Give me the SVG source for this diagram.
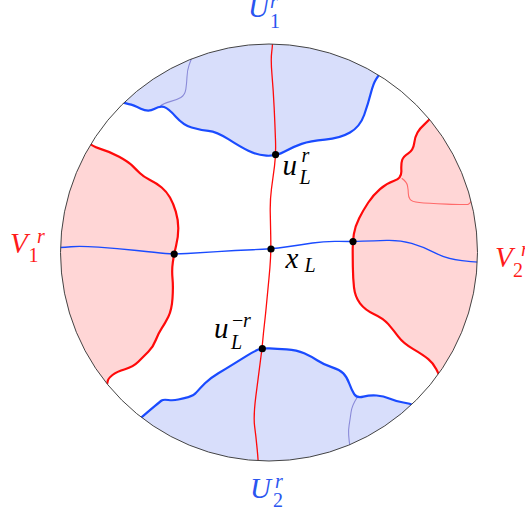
<svg xmlns="http://www.w3.org/2000/svg" width="525" height="512" viewBox="0 0 525 512">
<style>
.fillU{fill:#d8defb;stroke:none}
.fillV{fill:#ffd6d6;stroke:none}
.bU{fill:none;stroke:#1a4bff;stroke-width:2.2;stroke-linejoin:round;stroke-linecap:round}
.bV{fill:none;stroke:#ff0a0a;stroke-width:2.2;stroke-linejoin:round;stroke-linecap:round}
.tU{fill:none;stroke:#8a8ad8;stroke-width:1.1}
.tV{fill:none;stroke:#ff6a6a;stroke-width:1.1}
.lineR{fill:none;stroke:#ff0a0a;stroke-width:1.3}
.lineB{fill:none;stroke:#1a4bff;stroke-width:1.3}
.dot{fill:#000}
.m{font-family:"Liberation Serif","Times New Roman",serif;font-style:italic;font-size:29px}
.s{font-family:"Liberation Serif","Times New Roman",serif;font-style:italic;font-size:20px}
.d{font-family:"Liberation Serif","Times New Roman",serif;font-style:normal;font-size:20px}
.blue{fill:#2a55f0}
.red{fill:#ff1a1a}
.blk{fill:#000}
</style>
<defs>
<clipPath id="disk"><circle cx="269" cy="252.5" r="208.5"/></clipPath>
</defs>
<g clip-path="url(#disk)">
<g id="U1">
<path class="fillU" d="M120,101 Q124.3,103.3 128.8,104.15 Q133.3,105 140.8,108.65 Q148.3,112.3 154.15,109 Q160,105.7 164.15,107 Q168.3,108.3 175.8,116.65 Q183.3,125 191.65,127.5 Q200,130 208.35,130.85 Q216.7,131.7 228.35,139.2 Q240,146.7 248.35,150.85 Q256.7,155 266.35,155.65 Q276,156.3 284.65,151.5 Q293.3,146.7 301.65,143.85 Q310,141 325,139.65 Q340,138.3 350,132.5 Q360,126.7 364.15,115 Q368.3,103.3 370.8,93.3 Q373.3,83.3 376.3,78.8 Q379.3,74.3 384,68 L384,20 L120,20 Z"/>
<path class="tU" d="M159.6,106.8 Q163.3,103.3 170,101.65 Q176.7,100 180.85,97.5 Q185,95 185.85,89.15 Q186.7,83.3 187,76.65 Q187.3,70 189,65.35 Q190.7,60.7 192,57"/>
<path class="bU" d="M120,101 Q124.3,103.3 128.8,104.15 Q133.3,105 140.8,108.65 Q148.3,112.3 154.15,109 Q160,105.7 164.15,107 Q168.3,108.3 175.8,116.65 Q183.3,125 191.65,127.5 Q200,130 208.35,130.85 Q216.7,131.7 228.35,139.2 Q240,146.7 248.35,150.85 Q256.7,155 266.35,155.65 Q276,156.3 284.65,151.5 Q293.3,146.7 301.65,143.85 Q310,141 325,139.65 Q340,138.3 350,132.5 Q360,126.7 364.15,115 Q368.3,103.3 370.8,93.3 Q373.3,83.3 376.3,78.8 Q379.3,74.3 384,68"/>
</g>
<g id="U2">
<path class="fillU" d="M137,421 Q141.7,417.3 145.85,413.65 Q150,410 155,405.85 Q160,401.7 161.65,400.5 Q163.3,399.3 168.3,400 Q173.3,400.7 178.3,399.5 Q183.3,398.3 188.3,397.15 Q193.3,396 196.65,392.15 Q200,388.3 205,383.3 Q210,378.3 218.35,373.3 Q226.7,368.3 233.35,364.15 Q240,360 246.65,355.85 Q253.3,351.7 257.65,349.85 Q262,348 269.35,348.35 Q276.7,348.7 286.7,349.35 Q296.7,350 304.2,353.35 Q311.7,356.7 317.5,360.5 Q323.3,364.3 331.65,367.15 Q340,370 343.35,373.35 Q346.7,376.7 349.2,383.35 Q351.7,390 354.2,394.15 Q356.7,398.3 363.35,396.65 Q370,395 376.65,395.5 Q383.3,396 390,398.85 Q396.7,401.7 403.35,402.5 Q410,403.3 415,406 L420,480 L130,480 Z"/>
<path class="tU" d="M357.5,397 Q352,405 351,412.5 Q350,420 349.15,425 Q348.3,430 348.65,435 Q349,440 350,447"/>
<path class="bU" d="M137,421 Q141.7,417.3 145.85,413.65 Q150,410 155,405.85 Q160,401.7 161.65,400.5 Q163.3,399.3 168.3,400 Q173.3,400.7 178.3,399.5 Q183.3,398.3 188.3,397.15 Q193.3,396 196.65,392.15 Q200,388.3 205,383.3 Q210,378.3 218.35,373.3 Q226.7,368.3 233.35,364.15 Q240,360 246.65,355.85 Q253.3,351.7 257.65,349.85 Q262,348 269.35,348.35 Q276.7,348.7 286.7,349.35 Q296.7,350 304.2,353.35 Q311.7,356.7 317.5,360.5 Q323.3,364.3 331.65,367.15 Q340,370 343.35,373.35 Q346.7,376.7 349.2,383.35 Q351.7,390 354.2,394.15 Q356.7,398.3 363.35,396.65 Q370,395 376.65,395.5 Q383.3,396 390,398.85 Q396.7,401.7 403.35,402.5 Q410,403.3 415,406"/>
</g>
<g id="V1">
<path class="fillV" d="M88,141 Q90.7,146 100.35,148.85 Q110,151.7 119.15,156.7 Q128.3,161.7 132.5,165.85 Q136.7,170 140,173.35 Q143.3,176.7 150,180 Q156.7,183.3 161.7,187.5 Q166.7,191.7 170,197.5 Q173.3,203.3 175.8,211.65 Q178.3,220 178.3,228.35 Q178.3,236.7 176.15,245.5 Q174,254.3 172.85,262.15 Q171.7,270 172.5,278.35 Q173.3,286.7 172.5,298.35 Q171.7,310 168.35,316.65 Q165,323.3 161.65,328.3 Q158.3,333.3 155.8,340 Q153.3,346.7 148.3,351.7 Q143.3,356.7 138.3,361.7 Q133.3,366.7 125,369.2 Q116.7,371.7 112.5,375 Q108.3,378.3 107.8,380.8 Q107.3,383.3 106,388 L40,400 L40,130 Z"/>
<path class="bV" d="M88,141 Q90.7,146 100.35,148.85 Q110,151.7 119.15,156.7 Q128.3,161.7 132.5,165.85 Q136.7,170 140,173.35 Q143.3,176.7 150,180 Q156.7,183.3 161.7,187.5 Q166.7,191.7 170,197.5 Q173.3,203.3 175.8,211.65 Q178.3,220 178.3,228.35 Q178.3,236.7 176.15,245.5 Q174,254.3 172.85,262.15 Q171.7,270 172.5,278.35 Q173.3,286.7 172.5,298.35 Q171.7,310 168.35,316.65 Q165,323.3 161.65,328.3 Q158.3,333.3 155.8,340 Q153.3,346.7 148.3,351.7 Q143.3,356.7 138.3,361.7 Q133.3,366.7 125,369.2 Q116.7,371.7 112.5,375 Q108.3,378.3 107.8,380.8 Q107.3,383.3 106,388"/>
</g>
<g id="V2">
<path class="fillV" d="M432,116 Q429.3,120 424.65,124.15 Q420,128.3 417.5,132.5 Q415,136.7 414.15,143.35 Q413.3,150 408.3,153.35 Q403.3,156.7 402.15,160 Q401,163.3 401.35,170.8 Q401.7,178.3 394.2,180.8 Q386.7,183.3 380,189.15 Q373.3,195 368.3,202.5 Q363.3,210 359.15,218.35 Q355,226.7 353.85,234.2 Q352.7,241.7 352.7,248.85 Q352.7,256 352.85,267 Q353,278 354,287.35 Q355,296.7 360,303.35 Q365,310 374.15,314.15 Q383.3,318.3 388.3,324.15 Q393.3,330 398.3,336.65 Q403.3,343.3 413.3,349.15 Q423.3,355 428.3,359.15 Q433.3,363.3 436.3,369.15 Q439.3,375 441,379 L500,400 L500,100 Z"/>
<path class="tV" d="M401.7,178.3 Q406.7,181.7 407.5,185.85 Q408.3,190 408.3,193.35 Q408.3,196.7 410,199.2 Q411.7,201.7 419.2,202.5 Q426.7,203.3 446.7,204.15 Q466.7,205 468.35,204.15 Q470,203.3 470.85,201.65 Q471.7,200 473,197"/>
<path class="bV" d="M432,116 Q429.3,120 424.65,124.15 Q420,128.3 417.5,132.5 Q415,136.7 414.15,143.35 Q413.3,150 408.3,153.35 Q403.3,156.7 402.15,160 Q401,163.3 401.35,170.8 Q401.7,178.3 394.2,180.8 Q386.7,183.3 380,189.15 Q373.3,195 368.3,202.5 Q363.3,210 359.15,218.35 Q355,226.7 353.85,234.2 Q352.7,241.7 352.7,248.85 Q352.7,256 352.85,267 Q353,278 354,287.35 Q355,296.7 360,303.35 Q365,310 374.15,314.15 Q383.3,318.3 388.3,324.15 Q393.3,330 398.3,336.65 Q403.3,343.3 413.3,349.15 Q423.3,355 428.3,359.15 Q433.3,363.3 436.3,369.15 Q439.3,375 441,379"/>
</g>
<g id="connectors">
<path class="lineR" d="M272.7,38 Q272.7,44.3 271.7,52.15 Q270.7,60 272,75 Q273.3,90 274.15,107.5 Q275,125 275.5,140.15 Q276,155.3 274.5,166.15 Q273,177 271.5,188.5 Q270,200 270.25,212.5 Q270.5,225 270.75,237 Q271,249 270.5,258.5 Q270,268 269,278 Q268,288 266.75,301.5 Q265.5,315 264.5,323.5 Q263.5,332 262.75,340.5 Q262,349 260.15,362.85 Q258.3,376.7 255.8,396.7 Q253.3,416.7 254.65,426.7 Q256,436.7 257.15,448.85 Q258.3,461 258.5,468"/>
<path class="lineB" d="M55,247.7 Q62,247.5 71,246.75 Q80,246 98.35,247.15 Q116.7,248.3 136.7,250.5 Q156.7,252.7 165.35,253.5 Q174,254.3 187,253.5 Q200,252.7 217.5,251.6 Q235,250.5 253,249.75 Q271,249 285.5,247 Q300,245 312.5,243 Q325,241 338.85,241.35 Q352.7,241.7 363,241.2 Q373.3,240.7 386.65,240.35 Q400,240 411.65,243.35 Q423.3,246.7 435,252.85 Q446.7,259 462,260.65 Q477.3,262.3 484,262.5"/>
</g>
</g>
<circle id="disk-outline" cx="269" cy="252.5" r="208.5" fill="none" stroke="#444" stroke-width="1"/>
<g id="points">
<circle class="dot" cx="275.6" cy="154.6" r="3.6"/>
<circle class="dot" cx="271" cy="249" r="3.6"/>
<circle class="dot" cx="262.3" cy="348.7" r="3.6"/>
<circle class="dot" cx="174.2" cy="254.1" r="3.6"/>
<circle class="dot" cx="353" cy="241.6" r="3.6"/>
</g>
<g id="labels">
<g id="label-U1"><text class="m blue" x="248" y="17">U</text><text class="s blue" x="270" y="8">r</text><text class="d blue" x="270" y="27.5">1</text></g>
<g id="label-U2"><text class="m blue" x="250" y="498">U</text><text class="s blue" x="275" y="488">r</text><text class="d blue" x="273" y="506.5">2</text></g>
<g id="label-V1"><text class="m red" x="10" y="253.3">V</text><text class="s red" x="37" y="243.3">r</text><text class="d red" x="28.5" y="262">1</text></g>
<g id="label-V2"><text class="m red" x="495" y="266.7">V</text><text class="s red" x="521" y="256">r</text><text class="d red" x="513" y="277">2</text></g>
<g id="label-uLr"><text class="m blk" x="282.5" y="175">u</text><text class="s blk" x="301.5" y="161.7">r</text><text class="s blk" x="299.5" y="183.5">L</text></g>
<g id="label-xL"><text class="m blk" x="285.5" y="268.3">x</text><text class="s blk" x="304.5" y="271.5">L</text></g>
<g id="label-uLmr"><text class="m blk" x="214" y="338.3">u</text><text class="d blk" x="232" y="326.7">−</text><text class="s blk" x="243" y="326.7">r</text><text class="s blk" x="231" y="348.5">L</text></g>
</g>
</svg>
